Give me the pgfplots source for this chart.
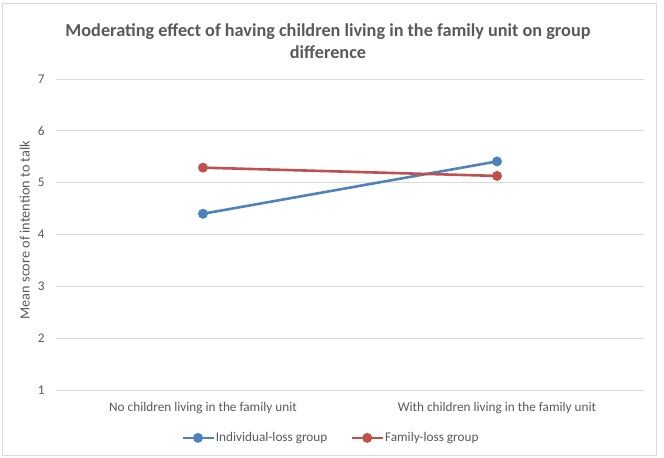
\documentclass[border=0pt]{standalone}
\usepackage{pgfplots}
\pgfplotsset{compat=1.18}
\usepackage{fontspec}
\setmainfont{Carlito}
\definecolor{serA}{HTML}{4F81BD}
\definecolor{serB}{HTML}{C0504D}
\definecolor{txt}{HTML}{595959}
\definecolor{gridc}{HTML}{D9D9D9}
\begin{document}
\begin{tikzpicture}
\path[use as bounding box] (0bp,0bp) rectangle (664bp,458bp);
\draw[gridc, line width=0.75bp] (2bp,3bp) rectangle (656bp,455bp);
\node[align=center, text=txt, font=\fontsize{18.3}{22}\selectfont\bfseries] at (328bp,417bp) {Moderating effect of having children living in the family unit on group\\difference};
\begin{axis}[
  at={(56bp,68bp)}, anchor=south west,
  scale only axis, width=588bp, height=311bp,
  xmin=-0.5, xmax=1.5, ymin=1, ymax=7,
  ytick={1,2,3,4,5,6,7},
  xtick={0,1},
  xticklabels={No children living in the family unit, With children living in the family unit},
  axis line style={draw=none},
  ymajorgrids, grid style={gridc, line width=0.75bp},
  major tick style={draw=none},
  ticklabel style={font=\fontsize{13.3}{15}\selectfont, text=txt},
  xticklabel style={yshift=-9bp},
  yticklabel style={xshift=-8bp},
  /pgf/number format/assume math mode=true,
  ylabel={Mean score of intention to talk},
  ylabel style={font=\fontsize{14.3}{16}\selectfont, text=txt, at={(axis description cs:-0.053,0.514)}, anchor=center},
  legend columns=2,
  legend style={draw=none, inner sep=0pt, at={(0.2126,-0.154)}, anchor=west, font=\fontsize{13.3}{15}\selectfont, text=txt,
    nodes={inner xsep=1bp},
    /tikz/every even column/.append style={column sep=22bp}},
  legend image code/.code={\draw[#1, mark repeat=2, mark phase=2] plot coordinates {(0bp,0bp) (15.5bp,0bp) (31bp,0bp)};},
]
\addplot[serA, line width=2.6bp, mark=*, mark size=3.6bp, mark options={solid}] coordinates {(0,4.40) (1,5.41)};
\addlegendentry{Individual-loss group}
\addplot[serB, line width=2.6bp, mark=*, mark size=3.6bp, mark options={solid}] coordinates {(0,5.29) (1,5.13)};
\addlegendentry{Family-loss group}
\end{axis}
\end{tikzpicture}
\end{document}
